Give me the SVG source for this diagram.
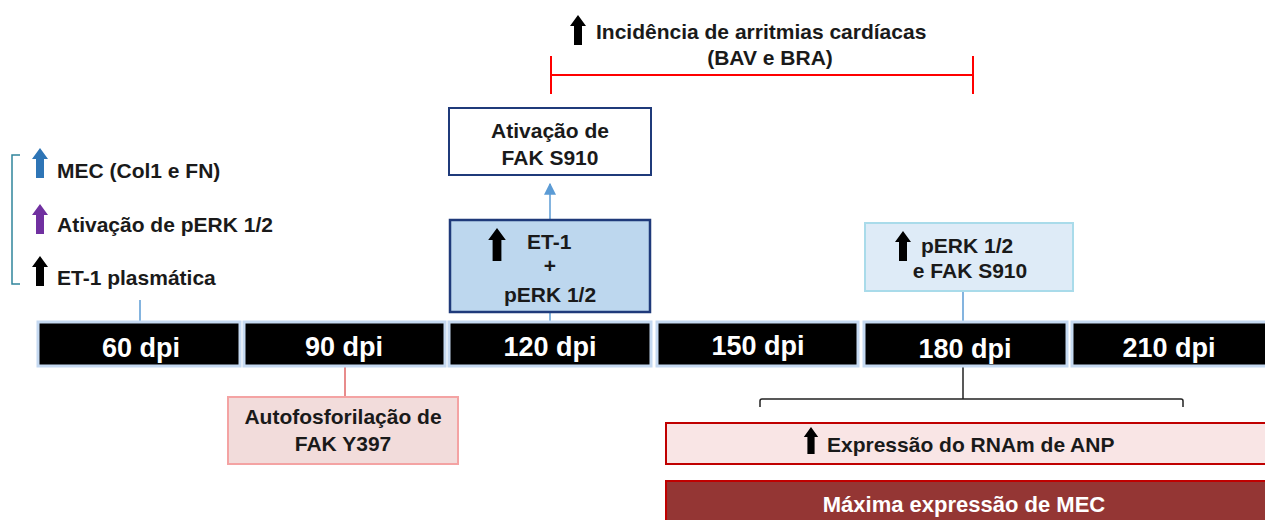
<svg xmlns="http://www.w3.org/2000/svg" width="1265" height="520" viewBox="0 0 1265 520">
<defs>
<style>
.t{font-family:"Liberation Sans",Arial,sans-serif;font-weight:bold;font-size:21px;fill:#1a1a1a}
.c{text-anchor:middle}
.dpi{font-family:"Liberation Sans",Arial,sans-serif;font-weight:bold;font-size:27px;fill:#fff;text-anchor:middle}
.tl{fill:#000;stroke:#c5d9f1;stroke-width:3}
</style>
<path id="up" d="M-4,30 L-4,11 L-8,11 L0,0 L8,11 L4,11 L4,30 Z"/>
<marker id="ah" viewBox="0 0 10 10" refX="9" refY="5" markerWidth="8" markerHeight="8" orient="auto"><path d="M0,0 L10,5 L0,10 Z" fill="#5b9bd5"/></marker>
</defs>
<rect width="1265" height="520" fill="#fff"/>

<g id="connectors">
<line x1="140" y1="300" x2="140" y2="322" stroke="#5b9bd5" stroke-width="1.5"/>
<line x1="550" y1="219" x2="550" y2="184" stroke="#5b9bd5" stroke-width="1.5" marker-end="url(#ah)"/>
<line x1="550" y1="312" x2="550" y2="322" stroke="#5b9bd5" stroke-width="1.5"/>
<line x1="963" y1="291" x2="963" y2="322" stroke="#5b9bd5" stroke-width="1.5"/>
<line x1="345" y1="366" x2="345" y2="397" stroke="#e06666" stroke-width="1.5"/>
<line x1="963" y1="366" x2="963" y2="399" stroke="#222" stroke-width="1.5"/>
<path d="M760,407 L760,401 Q760,399 762,399 L1181,399 Q1183,399 1183,401 L1183,407" fill="none" stroke="#222" stroke-width="1.5"/>
</g>

<g id="timeline">
<rect class="tl" x="38" y="322" width="202" height="44"/>
<rect class="tl" x="244" y="322" width="201" height="44"/>
<rect class="tl" x="449" y="322" width="202" height="44"/>
<rect class="tl" x="657" y="322" width="201" height="44"/>
<rect class="tl" x="864" y="322" width="203" height="44"/>
<rect class="tl" x="1072" y="322" width="200" height="44"/>
<text class="dpi" x="141" y="357">60 dpi</text>
<text class="dpi" x="344" y="356">90 dpi</text>
<text class="dpi" x="550" y="356">120 dpi</text>
<text class="dpi" x="758" y="355">150 dpi</text>
<text class="dpi" x="965" y="358">180 dpi</text>
<text class="dpi" x="1169" y="357">210 dpi</text>
</g>

<g id="left-list">
<path d="M20,155 L12,155 L12,284 L20,284" fill="none" stroke="#31859c" stroke-width="1.5"/>
<use href="#up" x="40" y="148" fill="#2e75b6"/>
<text class="t" x="57" y="178">MEC (Col1 e FN)</text>
<use href="#up" x="40" y="204" fill="#7030a0"/>
<text class="t" x="57" y="232">Ativação de pERK 1/2</text>
<use href="#up" x="40" y="256" fill="#000"/>
<text class="t" x="57" y="285">ET-1 plasmática</text>
</g>

<g id="arritmias">
<use href="#up" x="578" y="15" fill="#000"/>
<text class="t" x="596" y="39">Incidência de arritmias cardíacas</text>
<text class="t c" x="770" y="65">(BAV e BRA)</text>
<path d="M551,56 L551,94 M551,75 L973,75 M973,56 L973,94" stroke="#ff0000" stroke-width="2" fill="none"/>
</g>

<g id="fak-s910">
<rect x="449" y="108" width="202" height="67" fill="#fff" stroke="#1f3a7a" stroke-width="2"/>
<text class="t c" x="550" y="138">Ativação de</text>
<text class="t c" x="550" y="165">FAK S910</text>
</g>

<g id="et1-perk">
<rect x="450" y="220" width="200" height="92" fill="#bdd7ee" stroke="#1f3a7a" stroke-width="2.5"/>
<use href="#up" x="497" y="228" fill="#000" transform="translate(497 228) scale(1.1) translate(-497 -228)"/>
<text class="t" x="527" y="249">ET-1</text>
<text class="t c" x="550" y="273">+</text>
<text class="t c" x="550" y="302">pERK 1/2</text>
</g>

<g id="perk-fak-180">
<rect x="865" y="223" width="208" height="68" fill="#deebf7" stroke="#a9dbea" stroke-width="2"/>
<use href="#up" x="903" y="231" fill="#000"/>
<text class="t" x="921" y="253">pERK 1/2</text>
<text class="t c" x="970" y="278">e FAK S910</text>
</g>

<g id="fak-y397">
<rect x="228" y="397" width="230" height="67" fill="#f2dcdb" stroke="#f4a3a3" stroke-width="2"/>
<text class="t c" x="343" y="424">Autofosforilação de</text>
<text class="t c" x="343" y="451">FAK Y397</text>
</g>

<g id="anp">
<rect x="666" y="423" width="610" height="41" fill="#f9e5e5" stroke="#c00000" stroke-width="2"/>
<use href="#up" x="811" y="427" fill="#000" transform="translate(811 427) scale(0.9) translate(-811 -427)"/>
<text class="t" x="827" y="452">Expressão do RNAm de ANP</text>
</g>

<g id="mec-max">
<rect x="666" y="481" width="610" height="50" fill="#943634" stroke="#c00000" stroke-width="2"/>
<text class="t c" x="964" y="512" style="fill:#fff;font-size:22px">Máxima expressão de MEC</text>
</g>
</svg>
